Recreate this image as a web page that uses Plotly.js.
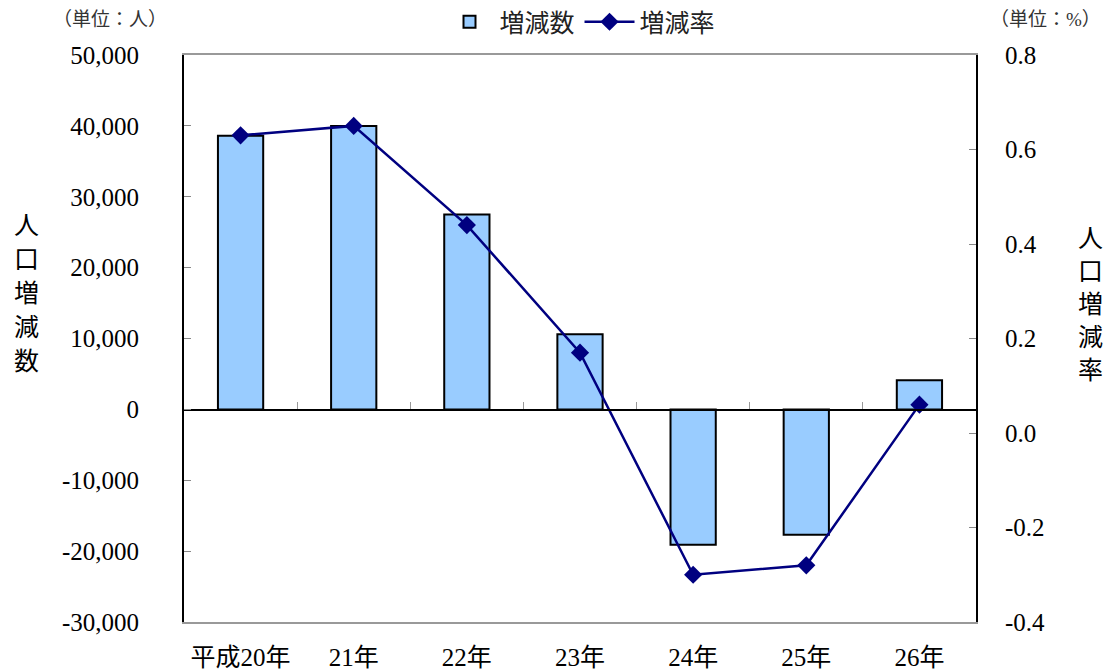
<!DOCTYPE html>
<html><head><meta charset="utf-8">
<script src="https://cdn.plot.ly/plotly-3.0.1.min.js"></script>
<style>body{margin:0;background:#fff}#c{width:1112px;height:671px}</style>
</head><body><div id="c"></div>
<script>
const categories = ['平成20年','21年','22年','23年','24年','25年','26年'];
const changeCount = [38600, 40000, 27500, 10600, -19100, -17700, 4100];
const changeRate = [0.63, 0.65, 0.44, 0.17, -0.30, -0.28, 0.06];
const leftTicks = [-30000,-20000,-10000,0,10000,20000,30000,40000,50000];
const leftTickText = ['-30,000','-20,000','-10,000','0','10,000','20,000','30,000','40,000','50,000'];
const rightTicks = [-0.4,-0.2,0,0.2,0.4,0.6,0.8];
const rightTickText = ['-0.4','-0.2','0.0','0.2','0.4','0.6','0.8'];
const leftTitle = '人口増減数';
const rightTitle = '人口増減率';

const FONT = 'Liberation Serif, "Noto Sans CJK JP", serif';
const L=184, R=976, T=55, B=622, H=B-T, W=R-L;

const traces = [
  {type:'bar', name:'増減数', x:categories, y:changeCount, xaxis:'x', yaxis:'y',
   width:0.4, marker:{color:'#99CCFF', line:{color:'#000', width:2}}},
  {type:'scatter', mode:'lines+markers', name:'増減率', x:categories, y:changeRate,
   xaxis:'x2', yaxis:'y2', line:{color:'#000080', width:2.5},
   marker:{symbol:'diamond', size:14, color:'#000080'}}
];

const zeroFrac = (0 - (-30000)) / 80000;
const ann = (text, px, py, size, color) => ({text, xref:'paper', yref:'paper', x:(px-L)/W, y:(B-py)/H,
  xanchor:'center', yanchor:'middle', showarrow:false, font:{size, color}});
const annotations = [
  ann('（単位：人）', 110, 20, 19, '#333'),
  ann('（単位：%）', 1045, 20, 19, '#333')
];
[...leftTitle].forEach((ch,i)=>annotations.push(ann(ch, 26, 225+34*i, 25, '#000')));
[...rightTitle].forEach((ch,i)=>annotations.push(ann(ch, 1090, 238+33*i, 25, '#000')));

const layout = {
  width:1112, height:671, margin:{l:L, r:1112-R, t:T, b:671-B, autoexpand:false},
  paper_bgcolor:'#fff', plot_bgcolor:'#fff',
  font:{family:FONT, color:'#000'},
  showlegend:true,
  legend:{orientation:'h', x:0.5, xanchor:'center', yref:'container', y:1-22/671, yanchor:'middle',
          font:{size:25, color:'#222'}, traceorder:'normal', itemwidth:50},
  xaxis:{type:'category', range:[-0.5,6.5], showline:true, linecolor:'#999', linewidth:2, mirror:true,
         ticks:'', tickfont:{size:25}, ticklabelstandoff:12, showgrid:false, zeroline:false},
  xaxis2:{type:'category', matches:'x', overlaying:'x', anchor:'free', position:zeroFrac, side:'bottom',
          showline:true, linecolor:'#000', linewidth:1.5, ticks:'inside', ticklen:7, tickcolor:'#999',
          tickson:'boundaries', showticklabels:false, showgrid:false, zeroline:false},
  yaxis:{range:[-30000,50000], tickvals:leftTicks, ticktext:leftTickText, showline:true, linecolor:'#000', linewidth:2,
         ticks:'inside', ticklen:7, tickcolor:'#888', tickfont:{size:25}, ticklabelstandoff:38,
         showgrid:false, zeroline:false},
  yaxis2:{range:[-0.4,0.8], overlaying:'y', side:'right', anchor:'x', tickvals:rightTicks, ticktext:rightTickText,
          showline:true, linecolor:'#000', linewidth:2, ticks:'inside', ticklen:7, tickcolor:'#888',
          tickfont:{size:25}, ticklabelstandoff:22, showgrid:false, zeroline:false},
  annotations: annotations
};
Plotly.newPlot('c', traces, layout, {displayModeBar:false, staticPlot:true});
</script></body></html>
